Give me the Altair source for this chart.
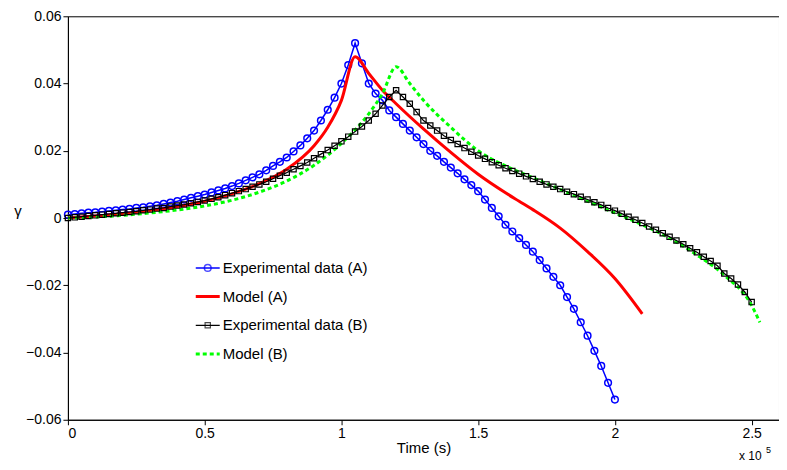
import altair as alt
import pandas as pd

# time in units of 1e5 s
exp_a_t = [0, 0.025, 0.05, 0.075, 0.1, 0.125, 0.15, 0.175, 0.2, 0.225, 0.25, 0.275, 0.3, 0.325, 0.35, 0.375,
           0.4, 0.425, 0.45, 0.475, 0.5, 0.525, 0.55, 0.575, 0.6, 0.625, 0.65, 0.675, 0.7, 0.725, 0.75, 0.775,
           0.8, 0.825, 0.85, 0.875, 0.9, 0.925, 0.95, 0.975, 1.0, 1.025, 1.05,
           1.075, 1.1, 1.125, 1.15, 1.175, 1.2, 1.225, 1.25, 1.275, 1.3, 1.325, 1.35, 1.375, 1.4, 1.425, 1.45,
           1.475, 1.5, 1.525, 1.55, 1.575, 1.6, 1.625, 1.65, 1.675, 1.7, 1.725, 1.75, 1.775, 1.8, 1.825, 1.85,
           1.875, 1.9, 1.925, 1.95, 1.975, 2.0]
exp_a_g = [0.0010, 0.0012, 0.0014, 0.0016, 0.0017, 0.0019, 0.0021, 0.0023, 0.0025, 0.0027, 0.0030, 0.0032,
           0.0035, 0.0038, 0.0042, 0.0046, 0.0050, 0.0055, 0.0060, 0.0065, 0.0070, 0.0076, 0.0082, 0.0088,
           0.0095, 0.0103, 0.0112, 0.0121, 0.0130, 0.0142, 0.0155, 0.0167, 0.0180, 0.0198, 0.0216, 0.0237,
           0.0260, 0.0290, 0.0322, 0.0358, 0.0400, 0.0455, 0.0520,
           0.046, 0.040, 0.037, 0.035, 0.032, 0.030, 0.028, 0.026, 0.024, 0.022, 0.020, 0.0185, 0.0167, 0.015,
           0.0133, 0.0115, 0.0098, 0.008, 0.0055, 0.003, 0.0005, -0.002, -0.004, -0.006, -0.008, -0.010,
           -0.0125, -0.015, -0.0175, -0.020, -0.0235, -0.027, -0.031, -0.035, -0.0395, -0.044, -0.049, -0.054]

exp_b_t = [0, 0.025, 0.05, 0.075, 0.1, 0.125, 0.15, 0.175, 0.2, 0.225, 0.25, 0.275, 0.3, 0.325, 0.35, 0.375,
           0.4, 0.425, 0.45, 0.475, 0.5, 0.525, 0.55, 0.575, 0.6, 0.625, 0.65, 0.675, 0.7, 0.725, 0.75, 0.775,
           0.8, 0.825, 0.85, 0.875, 0.9, 0.925, 0.95, 0.975, 1.0, 1.025, 1.05, 1.075, 1.1, 1.125, 1.15, 1.175,
           1.2, 1.225, 1.25, 1.275, 1.3, 1.325, 1.35, 1.375, 1.4, 1.425, 1.45, 1.475, 1.5, 1.525, 1.55, 1.575,
           1.6, 1.625, 1.65, 1.675, 1.7, 1.725, 1.75, 1.775, 1.8, 1.825, 1.85, 1.875, 1.9, 1.925, 1.95, 1.975,
           2.0, 2.025, 2.05, 2.075, 2.1, 2.125, 2.15, 2.175, 2.2, 2.225, 2.25, 2.275, 2.3, 2.325, 2.35, 2.375,
           2.4, 2.425, 2.45, 2.475, 2.5]
exp_b_g = [0, 0.0002, 0.0004, 0.0006, 0.0008, 0.001, 0.0012, 0.0014, 0.0016, 0.0018, 0.002, 0.0023, 0.0025,
           0.0028, 0.003, 0.0034, 0.0037, 0.004, 0.0044, 0.0048, 0.0052, 0.0057, 0.0062, 0.0068, 0.0074, 0.008,
           0.0086, 0.0093, 0.010, 0.0108, 0.0117, 0.0126, 0.0135, 0.0145, 0.0155, 0.0165, 0.0178, 0.019, 0.0202,
           0.0215, 0.0228, 0.0242, 0.0257, 0.0272, 0.029, 0.031, 0.0335, 0.036, 0.038,
           0.036, 0.034, 0.0315, 0.029, 0.0275, 0.026, 0.0245, 0.0232, 0.022, 0.0208, 0.0197, 0.0186, 0.0176,
           0.0166, 0.0157, 0.0148, 0.014, 0.0132, 0.0124, 0.0116, 0.0108, 0.010, 0.0093, 0.0086, 0.0078, 0.0071,
           0.0063, 0.0055, 0.0047, 0.0039, 0.003, 0.0022, 0.0013, 0.0004, -0.0005, -0.0015, -0.0025, -0.0035,
           -0.0045, -0.0056, -0.0067, -0.0078, -0.009, -0.0102, -0.0115, -0.0128, -0.0142, -0.0165, -0.018,
           -0.0198, -0.022, -0.025]

model_a_t = [0, 0.1, 0.2, 0.3, 0.4, 0.5, 0.6, 0.7, 0.8, 0.9, 0.95, 1.0, 1.05, 1.1, 1.15, 1.2, 1.3, 1.4, 1.5,
             1.6, 1.65, 1.7, 1.8, 1.9, 2.0, 2.1]
model_a_g = [0, 0.0006, 0.0013, 0.0022, 0.0034, 0.005, 0.0072, 0.0102, 0.0145, 0.0215, 0.027, 0.035, 0.048,
             0.043, 0.038, 0.034, 0.0265, 0.0195, 0.013, 0.0075, 0.005, 0.0025, -0.003, -0.010, -0.018, -0.0285]

model_b_t = [0, 0.1, 0.2, 0.3, 0.4, 0.5, 0.6, 0.7, 0.8, 0.9, 1.0, 1.1, 1.15, 1.2, 1.25, 1.3, 1.4, 1.5, 1.6,
             1.7, 1.8, 1.9, 2.0, 2.1, 2.2, 2.3, 2.4, 2.5, 2.53]
model_b_g = [0, 0.0003, 0.0008, 0.0015, 0.0024, 0.0036, 0.0053, 0.0077, 0.011, 0.0157, 0.0222, 0.031, 0.037,
             0.045, 0.040, 0.035, 0.027, 0.020, 0.0155, 0.012, 0.0085, 0.005, 0.0015, -0.002, -0.006, -0.011,
             -0.017, -0.026, -0.031]

legend_labels = ["Experimental data (A)", "Model (A)", "Experimental data (B)", "Model (B)"]

W, H = 712, 404
xs = alt.Scale(domain=[0, 2.6], nice=False)
ys = alt.Scale(domain=[-0.06, 0.06], nice=False)

X = alt.X("t:Q", scale=xs, title="Time (s)",
          axis=alt.Axis(values=[0, 0.5, 1, 1.5, 2, 2.5], format="~g", grid=False, titlePadding=0))
Y = alt.Y("g:Q", scale=ys, title="γ",
          axis=alt.Axis(values=[-0.06, -0.04, -0.02, 0, 0.02, 0.04, 0.06], format=".2f", grid=False,
                        titleAngle=0, titlePadding=8, labelExpr="datum.value == 0 ? '0' : datum.label"))


def df(t, g):
    return pd.DataFrame({"t": t, "g": g})


exp_a = alt.Chart(df(exp_a_t, exp_a_g)).mark_line(
    color="#0000ff", strokeWidth=1.5,
    point=alt.OverlayMarkDef(shape="circle", filled=False, color="#0000ff", size=45, strokeWidth=1.5)
).encode(x=X, y=Y)
model_a = alt.Chart(df(model_a_t, model_a_g)).mark_line(
    color="#ff0000", strokeWidth=3, interpolate="monotone").encode(x=X, y=Y)
exp_b = alt.Chart(df(exp_b_t, exp_b_g)).mark_line(
    color="black", strokeWidth=1.2,
    point=alt.OverlayMarkDef(shape="square", filled=False, color="black", size=28, strokeWidth=1.2)
).encode(x=X, y=Y)
model_b = alt.Chart(df(model_b_t, model_b_g)).mark_line(
    color="#00ff00", strokeWidth=3, strokeDash=[4, 3], interpolate="monotone").encode(x=X, y=Y)

# hand-drawn legend, pixel positions inside the plot area
leg = pd.DataFrame({"label": legend_labels, "row": [0, 1, 2, 3]})
leg_base = alt.Chart(leg).transform_calculate(py="252 + datum.row * 28.7")
leg_lines = []
for i, (col, dash, w) in enumerate([("#0000ff", [1, 0], 1.5), ("#ff0000", [1, 0], 3),
                                     ("black", [1, 0], 1.2), ("#00ff00", [4, 3], 3)]):
    leg_lines.append(
        leg_base.transform_filter(f"datum.row == {i}")
        .mark_rule(color=col, strokeWidth=w, strokeDash=dash)
        .encode(x=alt.value(128), x2=alt.value(152), y=alt.Y("py:Q", scale=None))
    )
leg_pts = [
    leg_base.transform_filter("datum.row == 0").mark_point(shape="circle", color="#0000ff", size=45, strokeWidth=1.5)
    .encode(x=alt.value(140), y=alt.Y("py:Q", scale=None)),
    leg_base.transform_filter("datum.row == 2").mark_point(shape="square", color="black", size=28, strokeWidth=1.2)
    .encode(x=alt.value(140), y=alt.Y("py:Q", scale=None)),
]
leg_text = leg_base.mark_text(align="left", baseline="middle", fontSize=15, font="Liberation Sans").encode(
    x=alt.value(155), y=alt.Y("py:Q", scale=None), text="label:N")

exp_note = alt.Chart(pd.DataFrame({"s": ["x 10"]})).mark_text(
    align="left", baseline="middle", fontSize=12, font="Liberation Sans").encode(
    x=alt.value(672), y=alt.value(440), text="s:N")
exp_sup = alt.Chart(pd.DataFrame({"s": ["5"]})).mark_text(
    align="left", baseline="middle", fontSize=9, font="Liberation Sans").encode(
    x=alt.value(699), y=alt.value(434), text="s:N")

chart = alt.layer(exp_a, model_a, model_b, exp_b, *leg_lines, *leg_pts, leg_text, exp_note, exp_sup).properties(
    width=W, height=H, autosize=alt.AutoSizeParams(type="none"),
    padding={"left": 60, "top": 8, "right": 0, "bottom": 46}
).configure_view(stroke="black", strokeWidth=1).configure_axis(
    labelFont="Liberation Sans", titleFont="Liberation Sans", labelFontSize=14, titleFontSize=15,
    titleFontWeight="normal", labelColor="black", titleColor="black", domainColor="black", tickColor="black",
    tickSize=5
)

chart.save("out.html", embed_options={"renderer": "svg", "actions": False})
